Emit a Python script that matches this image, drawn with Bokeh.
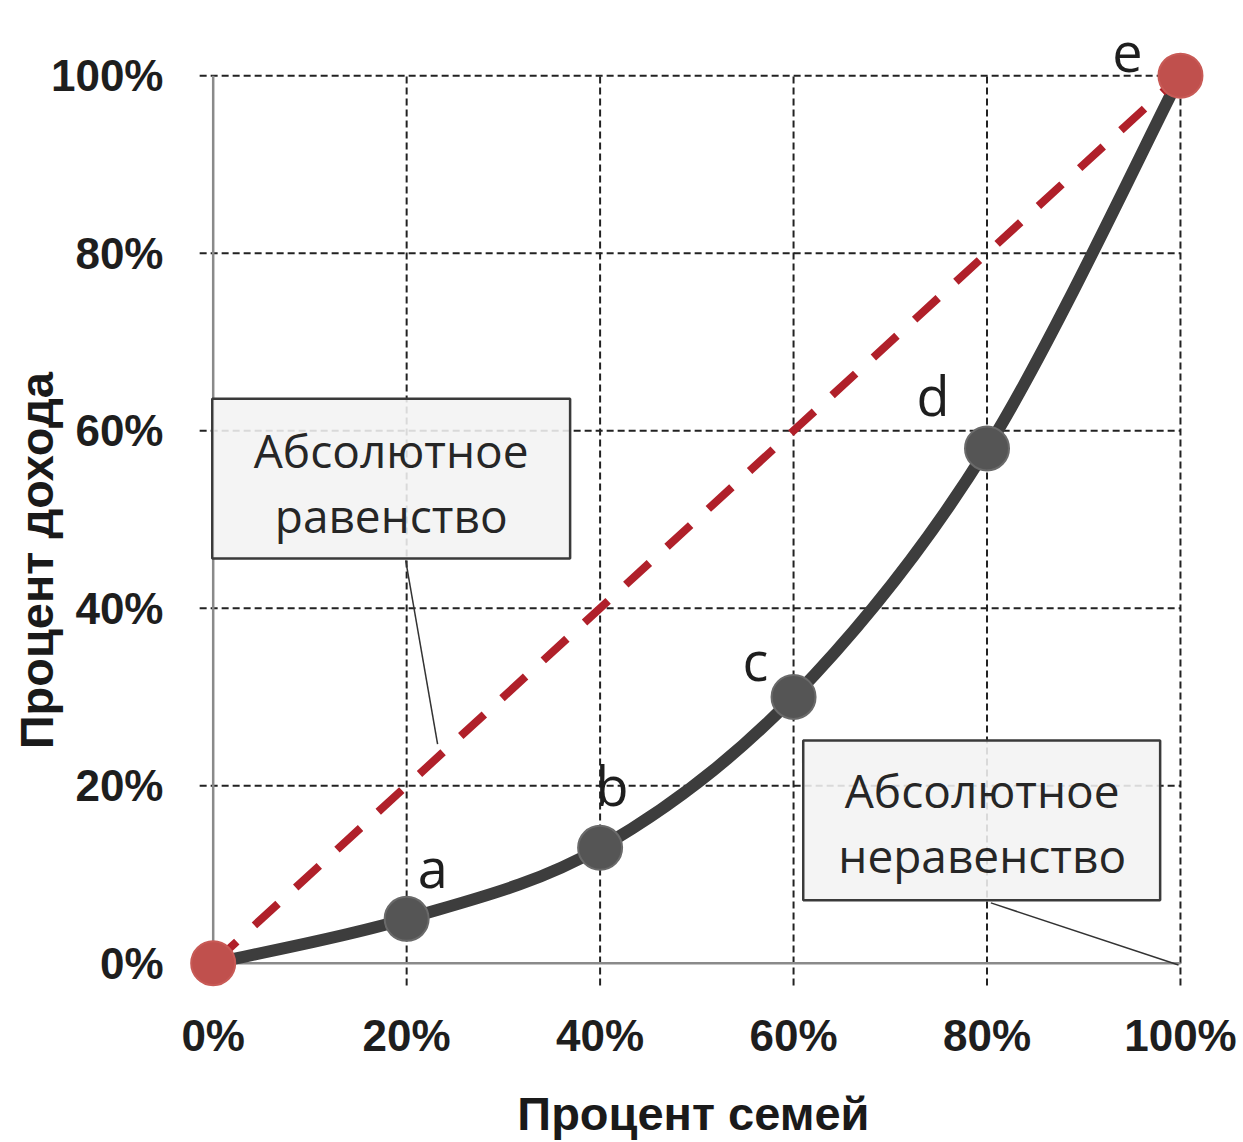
import numpy as np
from bokeh.plotting import figure
from bokeh.models import (Range1d, FixedTicker, BoxAnnotation, Label, Arrow,
                          ColumnDataSource)
from bokeh.core.properties import value
from bokeh.embed import file_html
from bokeh.resources import INLINE

# ---------------- data ----------------
families = [0, 20, 40, 60, 80, 100]          # % of families (cumulative)
income = [0, 5, 13, 30, 58, 100]             # % of income (cumulative)
point_names = ["", "a", "b", "c", "d", "e"]
equality_x = [0, 100]
equality_y = [0, 100]
tick_values = [0, 20, 40, 60, 80, 100]
tick_labels = ["0%", "20%", "40%", "60%", "80%", "100%"]
x_title = "Процент семей"
y_title = "Процент дохода"
box1_lines = ["Абсолютное", "равенство"]
box2_lines = ["Абсолютное", "неравенство"]

# label offsets in screen pixels (layout only)
label_dx = [0, 26, 12, -38, -54, -53]
label_dy = [0, -52, -63, -37, -53, -23]

FONT = "Open Sans"
AXFONT = "Liberation Sans"
NBSP = "\u00a0"

p = figure(width=1243, height=1142, output_backend="svg", toolbar_location=None,
           x_range=Range1d(-4, 106), y_range=Range1d(-6, 107),
           min_border_left=174, min_border_right=5, min_border_top=13,
           min_border_bottom=126)
p.outline_line_color = None
p.xgrid.visible = False
p.ygrid.visible = False
p.background_fill_color = "white"

for ax in (p.xaxis[0], p.yaxis[0]):
    ax.ticker = FixedTicker(ticks=tick_values)
    ax.major_label_overrides = {v: l for v, l in zip(tick_values, tick_labels)}
    ax.axis_line_color = None
    ax.major_tick_line_color = None
    ax.minor_tick_line_color = None
    ax.major_label_text_font = AXFONT
    ax.major_label_text_font_style = "bold"
    ax.major_label_text_font_size = "44px"
    ax.major_label_text_color = "#1e1e1e"
    ax.axis_label_text_font = AXFONT
    ax.axis_label_text_font_style = "bold"
    ax.axis_label_text_font_size = "47px"
    ax.axis_label_text_color = "#1a1a1a"
# trailing no-break spaces shift the centred titles to where the reference has them
p.xaxis.axis_label = x_title + NBSP * 2
p.yaxis.axis_label = y_title + NBSP * 7
p.xaxis.major_label_standoff = -12
p.yaxis.major_label_standoff = 5
p.xaxis.axis_label_standoff = 24
p.yaxis.axis_label_standoff = -15

# ---------------- grid (dashed) ----------------
grid_vals = [v for v in tick_values if v > 0]
top = tick_values[-1]
p.segment(x0=[-1.4] * len(grid_vals), y0=grid_vals, x1=[top] * len(grid_vals), y1=grid_vals,
          line_color="#222222", line_width=2, line_dash="7 4")
p.segment(x0=grid_vals, y0=[-2.5] * len(grid_vals), x1=grid_vals, y1=[top] * len(grid_vals),
          line_color="#222222", line_width=2, line_dash="7 4")
# solid axis lines
p.segment(x0=[0, -1.4], y0=[0, 0], x1=[0, top], y1=[top, 0],
          line_color="#8a8a8a", line_width=2.5)

# ---------------- annotation boxes ----------------
box_style = dict(fill_color="#f2f2f2", fill_alpha=0.88, line_color="#3a3a3a",
                 line_width=2.5, line_alpha=1.0)
p.add_layout(BoxAnnotation(left=-0.1, right=36.9, bottom=45.6, top=63.6, **box_style))
p.add_layout(BoxAnnotation(left=61.0, right=97.9, bottom=7.1, top=25.1, **box_style))

for (bx, ys, lines) in [(18.4, (57.8, 50.5), box1_lines), (79.5, (19.5, 12.2), box2_lines)]:
    for yy, t in zip(ys, lines):
        p.add_layout(Label(x=bx, y=yy, text=t, text_align="center", text_baseline="middle",
                           text_font=FONT, text_font_size="46px", text_color="#262626"))

p.add_layout(Arrow(end=None, x_start=19.9, y_start=45.4, x_end=23.2, y_end=24.7,
                   line_color="#333333", line_width=1.5))
p.add_layout(Arrow(end=None, x_start=80.4, y_start=6.8, x_end=99.8, y_end=-0.2,
                   line_color="#333333", line_width=1.5))

# ---------------- Lorenz curve (smooth bezier through points) ----------------
P = np.column_stack([families, income]).astype(float)
n = len(P)
bx0, by0, bx1, by1, cx0, cy0, cx1, cy1 = ([] for _ in range(8))
for i in range(n - 1):
    pm = P[max(i - 1, 0)]
    p0 = P[i]
    p1 = P[i + 1]
    p2 = P[min(i + 2, n - 1)]
    c0 = p0 + (p1 - pm) / 6.0
    c1 = p1 - (p2 - p0) / 6.0
    bx0.append(p0[0]); by0.append(p0[1]); bx1.append(p1[0]); by1.append(p1[1])
    cx0.append(c0[0]); cy0.append(c0[1]); cx1.append(c1[0]); cy1.append(c1[1])
p.bezier(x0=bx0, y0=by0, x1=bx1, y1=by1, cx0=cx0, cy0=cy0, cx1=cx1, cy1=cy1,
         line_color="#3d3d3d", line_width=12)

# equality line
p.line(equality_x, equality_y, line_color="#B0202A", line_width=8, line_dash="32 24")

# markers
colors = ["#C0504D" if i in (0, n - 1) else "#555555" for i in range(n)]
edges = ["#C85A56" if i in (0, n - 1) else "#6a6a6a" for i in range(n)]
msrc = ColumnDataSource(dict(x=families, y=income, c=colors, e=edges))
p.scatter("x", "y", source=msrc, size=44, fill_color="c", line_color="e", line_width=2)

# point letters
lsrc = ColumnDataSource(dict(x=families[1:], y=income[1:], t=point_names[1:],
                             dx=label_dx[1:], dy=label_dy[1:]))
p.text("x", "y", text="t", source=lsrc, x_offset="dx", y_offset="dy",
       text_align="center", text_baseline="alphabetic",
       text_font=value(FONT), text_font_size="54px", text_color="#1e1e1e")

open("out.html", "w").write(file_html(p, INLINE))
